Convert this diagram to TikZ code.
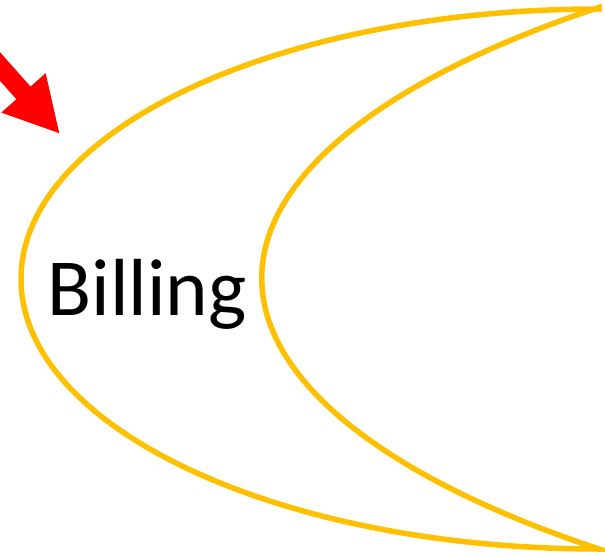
\documentclass[tikz,border=0pt]{standalone}
\usepackage{fontspec}
\setmainfont{Carlito}
\usetikzlibrary{arrows.meta}
\definecolor{moongold}{HTML}{FFC000}
\definecolor{pointred}{HTML}{FF0000}

\begin{document}
\begin{tikzpicture}[x=1pt, y=1pt,
  moon/.style={draw=moongold, line width=5.5pt, line join=miter},
  pointer/.style={draw=pointred, line width=19pt, -{Triangle[length=55pt, width=55pt]}},
  label/.style={font=\fontsize{81}{92}\selectfont, anchor=base, inner sep=0pt},
]
\useasboundingbox (0,0) rectangle (605,555);
\clip (0,0) rectangle (605,555);

% crescent outline
\draw[moon] (599,546)
  arc[start angle=90, end angle=270, x radius=578pt, y radius=270pt]
  arc[start angle=225.3, end angle=134.7, x radius=1137pt, y radius=381pt] -- cycle;

% label
\node[label] (billing) at (147,240) {Billing};

% red pointer
\coordinate (tail) at (-20,511);
\coordinate (tip) at (60,421);
\draw[pointer] (tail) -- (tip);

\end{tikzpicture}
\end{document}
